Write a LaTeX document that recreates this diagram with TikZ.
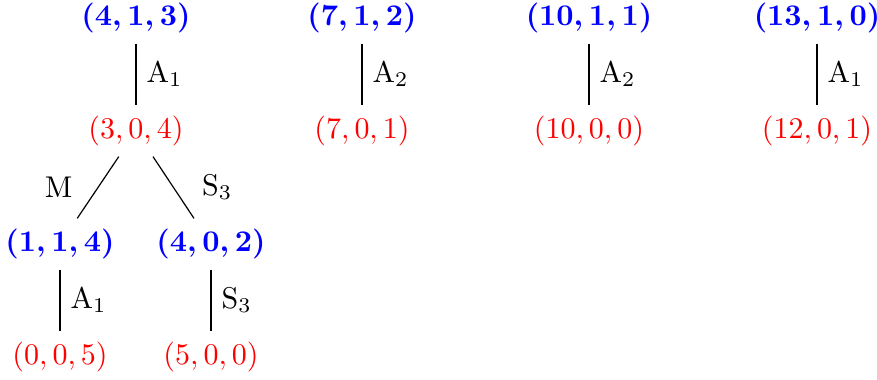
\documentclass[tikz,border=0pt]{standalone}
\usepackage{amsmath}
\begin{document}
\begin{tikzpicture}[x=0.33333pt,y=-0.33333pt,
  top/.style={text=blue,font=\boldmath},
  low/.style={text=red},
  conn/.style={draw=black,line width=0.4pt}]
\useasboundingbox (0,0) rectangle (877,380);
% tree 1
\node[top] (a) at (136,18) {$(4,1,3)$};
\node[low] (b) at (136,131) {$(3,0,4)$};
\node[top] (c) at (60,244) {$(1,1,4)$};
\node[top] (d) at (211,244) {$(4,0,2)$};
\node[low] (e) at (60,357) {$(0,0,5)$};
\node[low] (f) at (211,357) {$(5,0,0)$};
\draw[conn] (a) -- node[midway,right] {$\mathrm{A}_1$} (b);
\draw[conn] (b) -- node[midway,left=5pt] {M} (c);
\draw[conn] (b) -- node[midway,right=6pt] {$\mathrm{S}_3$} (d);
\draw[conn] (c) -- node[midway,right] {$\mathrm{A}_1$} (e);
\draw[conn] (d) -- node[midway,right] {$\mathrm{S}_3$} (f);
% tree 2
\node[top] (g) at (362,18) {$(7,1,2)$};
\node[low] (h) at (362,131) {$(7,0,1)$};
\draw[conn] (g) -- node[midway,right] {$\mathrm{A}_2$} (h);
% tree 3
\node[top] (i) at (589,18) {$(10,1,1)$};
\node[low] (j) at (589,131) {$(10,0,0)$};
\draw[conn] (i) -- node[midway,right] {$\mathrm{A}_2$} (j);
% tree 4
\node[top] (k) at (817,18) {$(13,1,0)$};
\node[low] (l) at (817,131) {$(12,0,1)$};
\draw[conn] (k) -- node[midway,right] {$\mathrm{A}_1$} (l);
\end{tikzpicture}
\end{document}
